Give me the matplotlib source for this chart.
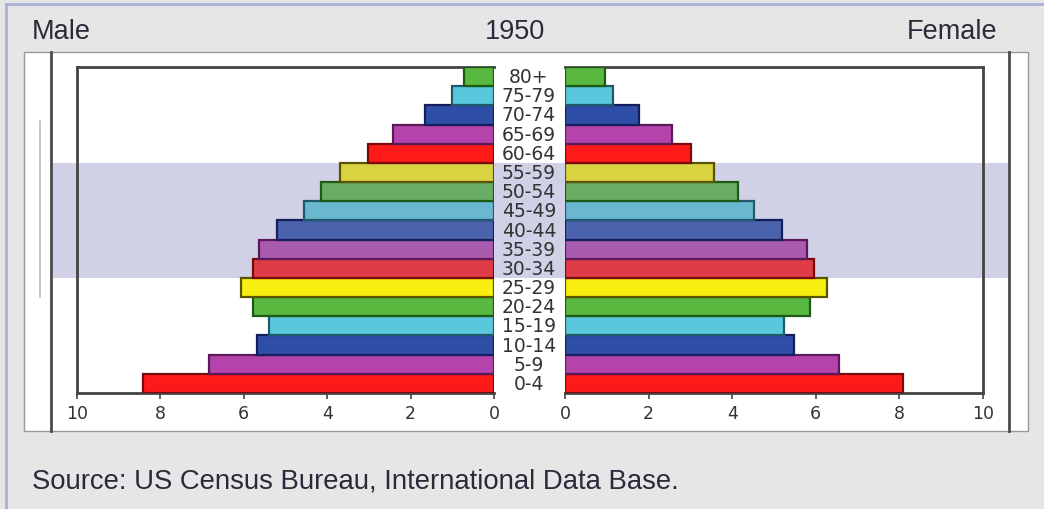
##############################################################################
# population pyramid, 1950 (US Census Bureau, International Data Base)
##############################################################################
import numpy as np
import matplotlib.pyplot as plt
from matplotlib.patches import Rectangle
from matplotlib.colors import to_rgb

# Age groups from youngest (bottom) to oldest (top)
ages = ["0-4", "5-9", "10-14", "15-19", "20-24", "25-29", "30-34", "35-39",
        "40-44", "45-49", "50-54", "55-59", "60-64", "65-69", "70-74",
        "75-79", "80+"]

# Percent of population
male = [8.42, 6.83, 5.68, 5.40, 5.78, 6.07, 5.78, 5.63, 5.20, 4.56, 4.15,
        3.69, 3.02, 2.42, 1.65, 1.00, 0.72]
female = [8.08, 6.55, 5.49, 5.25, 5.85, 6.26, 5.95, 5.78, 5.18, 4.53, 4.15,
          3.57, 3.02, 2.57, 1.77, 1.15, 0.96]

ticks = [0, 2, 4, 6, 8, 10]
title = "1950"
source = "Source: US Census Bureau, International Data Base."

# the shaded age band (30-34 .. 55-59)
band_first = "30-34"
band_last = "55-59"

# colour cycle used by the chart, repeats every 6 groups
cycle = ["#ff1a1a", "#b444ac", "#2e4ea8", "#5ac8dc", "#58b840", "#f8ee10"]
edge = ["#7a0a0a", "#5a1a5a", "#141e5a", "#1e5a6a", "#1e5a14", "#5a5400"]
lav = np.array(to_rgb("#d0d0e6"))
shade = np.array(to_rgb("#9090b4"))

W, H = 1044, 510
fig = plt.figure(figsize=(W / 100, H / 100), dpi=100, facecolor="#e6e6e6")
plt.rcParams["font.family"] = ["Liberation Sans", "DejaVu Sans"]

# background layer in pixel coordinates (y down)
bg = fig.add_axes([0, 0, 1, 1], zorder=0)
bg.set_xlim(0, W)
bg.set_ylim(H, 0)
bg.axis("off")


def px_axes(x0, x1, y0, y1, z=2):
    return fig.add_axes([x0 / W, (H - y1) / H, (x1 - x0) / W, (y1 - y0) / H],
                        zorder=z)


# outer border
bg.plot([6, 6], [5, H], color="#a8b2d6", lw=2)
bg.plot([6, W], [5, 5], color="#a8b2d6", lw=2)
# white panel
bg.add_patch(Rectangle((24, 53), 1004, 379, facecolor="white",
                       edgecolor="#9a9a9a", lw=1))

axL = px_axes(77, 494, 68, 394)
axR = px_axes(565, 983, 68, 394)

n = len(ages)
y = np.arange(n)
i0, i1 = ages.index(band_first), ages.index(band_last)
for ax in (axL, axR):
    ax.set_xlim(0, 10)
    ax.set_ylim(-0.5, n - 0.5)

# lavender band across the whole panel (via left axes' y data)
yb0 = axL.transData.transform((0, i0 - 0.5))[1]
yb1 = axL.transData.transform((0, i1 + 0.5))[1]
bg.add_patch(Rectangle((51, H - yb1), 958, yb1 - yb0, facecolor=lav,
                       edgecolor="none"))

# dark vertical lines at panel edges and a faint one on the left
bg.plot([51, 51], [53, 432], color="#4a4a4a", lw=2)
bg.plot([1009, 1009], [53, 432], color="#4a4a4a", lw=2)
bg.plot([40, 40], [122, 298], color="#bbbbbb", lw=1.2)

fc, ec = [], []
for i in range(n):
    c = np.array(to_rgb(cycle[i % 6]))
    if i0 <= i <= i1:
        c = 0.7 * c + 0.3 * shade
    fc.append(c)
    ec.append(edge[i % 6])

for ax, vals in ((axL, male), (axR, female)):
    ax.set_facecolor("none")
    ax.barh(y, vals, height=1.0, color=fc, edgecolor=ec, linewidth=1.6,
            zorder=3)
    ax.set_yticks([])
    ax.set_xticks(ticks)
    ax.set_xticklabels([str(t) for t in ticks], fontsize=12.5,
                       family="DejaVu Sans", color="#333333")
    ax.tick_params(axis="x", length=4, width=1.2, color="#444444", pad=4)
    for s in ax.spines.values():
        s.set_color("#444444")
        s.set_linewidth(2)

axL.invert_xaxis()
axL.spines["right"].set_visible(False)
axR.spines["left"].set_visible(False)

# age labels in the gap between the two halves
for i, a in enumerate(ages):
    yy = axL.transData.transform((0, i))[1]
    bg.text(529, H - yy, a, ha="center", va="center", fontsize=13.5,
            family="DejaVu Sans", color="#333333")

bg.text(32, 32, "Male", ha="left", va="center", fontsize=19.5,
        color="#2a2a3a")
bg.text(515, 32, title, ha="center", va="center", fontsize=19.5,
        color="#2a2a3a")
bg.text(997, 32, "Female", ha="right", va="center", fontsize=19.5,
        color="#2a2a3a")
bg.text(32, 482, source, ha="left", va="center", fontsize=19.8,
        color="#2a2a3a")

fig.savefig("out.png", dpi=100, facecolor=fig.get_facecolor())
